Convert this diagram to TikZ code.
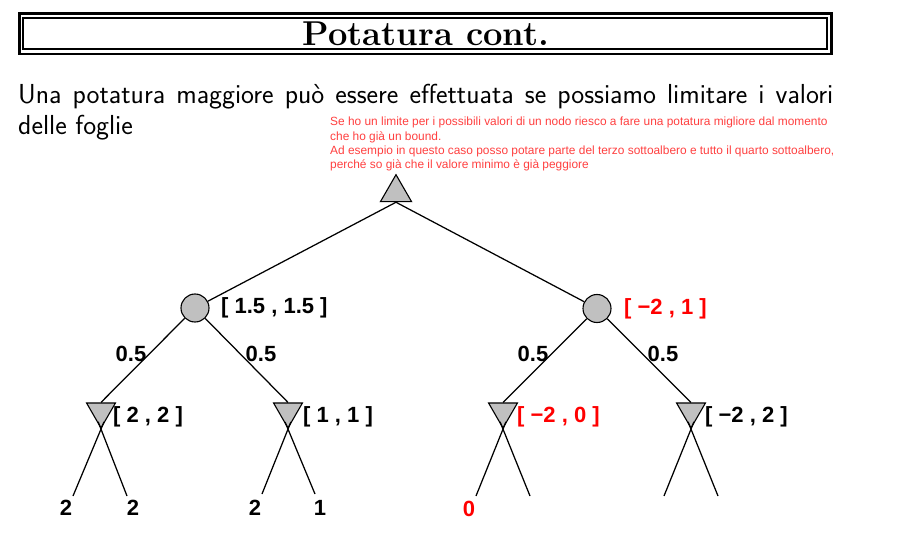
\documentclass[tikz,border=0pt]{standalone}
\usepackage{fontspec}
\newfontfamily\lsans{Liberation Sans}
\usetikzlibrary{shapes.geometric,calc}
\definecolor{annred}{RGB}{255,64,64}
\definecolor{valred}{RGB}{255,0,0}
\definecolor{nodegray}{RGB}{192,192,192}
\begin{document}
\begin{tikzpicture}[x=1pt,y=-1pt,
  maxnode/.style={regular polygon, regular polygon sides=3, draw, fill=nodegray, line width=1.1pt, inner sep=0pt, minimum size=36pt},
  minnode/.style={regular polygon, regular polygon sides=3, shape border rotate=180, draw, fill=nodegray, line width=1.1pt, inner sep=0pt, minimum size=33.4pt},
  chance/.style={circle, draw, fill=nodegray, line width=1.1pt, inner sep=0pt, minimum size=28pt},
  edge/.style={line width=1.25pt},
  lbl/.style={font=\lsans\bfseries\fontsize{22}{24}\selectfont, inner sep=0pt},
  vlbl/.style={lbl, anchor=west},
  ann/.style={font=\lsans\fontsize{11.9}{14.3}\selectfont, text=annred, inner sep=0pt, align=left, anchor=north west},
  body/.style={font=\sffamily\fontsize{27.5}{30}\selectfont, inner sep=0pt, anchor=base west}
]
\useasboundingbox[fill=white] (0,0) rectangle (914,556);
% title box
\draw[line width=2.5pt] (19.5,13.3) rectangle (831.7,54.2);
\draw[line width=1.7pt] (23,18) rectangle (827.3,48.8);
\node[font=\bfseries\fontsize{34.5}{38}\selectfont, inner sep=0pt] (title) at (426,34) {Potatura cont.};
% body
\node[body] (line1) at (18,104) {\makebox[815pt][s]{Una potatura maggiore può essere effettuata se possiamo limitare i valori}};
\node[body] (line2) at (18,135) {delle foglie};
% annotation
\node[ann] (note) at (330,117) {Se ho un limite per i possibili valori di un nodo riesco a fare una potatura migliore dal momento\\che ho già un bound.\\Ad esempio in questo caso posso potare parte del terzo sottoalbero e tutto il quarto sottoalbero,\\perché so già che il valore minimo è già peggiore};
% tree nodes
\node[maxnode] (root) at (396,192.7) {};
\node[chance] (cL) at (195,308) {};
\node[chance] (cR) at (597,308.5) {};
\node[minnode] (mL1) at (101,411.3) {};
\node[minnode] (mL2) at (288,411.3) {};
\node[minnode] (mR1) at (503,411.3) {};
\node[minnode] (mR2) at (691,411.3) {};
% leaf endpoints
\coordinate (l1) at (73,496);
\coordinate (l2) at (127,496);
\coordinate (l3) at (262,494);
\coordinate (l4) at (315,494);
\coordinate (l5) at (476,496);
\coordinate (l6) at (530,496);
\coordinate (l7) at (664,496);
\coordinate (l8) at (718,496);
% edges
\draw[edge] (root.south) -- (cL);
\draw[edge] (root.south) -- (cR);
\draw[edge] (cL) -- (mL1.north);
\draw[edge] (cL) -- (mL2.north);
\draw[edge] (cR) -- (mR1.north);
\draw[edge] (cR) -- (mR2.north);
\draw[edge] (l1) -- ($(l1)!1.11!(mL1.south)$);
\draw[edge] (l2) -- ($(l2)!1.11!(mL1.south)$);
\draw[edge] (l3) -- ($(l3)!1.11!(mL2.south)$);
\draw[edge] (l4) -- ($(l4)!1.11!(mL2.south)$);
\draw[edge] (l5) -- ($(l5)!1.11!(mR1.south)$);
\draw[edge] (l6) -- ($(l6)!1.11!(mR1.south)$);
\draw[edge] (l7) -- ($(l7)!1.11!(mR2.south)$);
\draw[edge] (l8) -- ($(l8)!1.11!(mR2.south)$);
% value labels
\node[vlbl] (vcL) at (221,308) {[ 1.5 , 1.5 ]};
\node[vlbl, text=valred] (vcR) at (624,309) {[ −2 , 1 ]};
\node[vlbl] (vmL1) at (113,417) {[ 2 , 2 ]};
\node[vlbl] (vmL2) at (303,417) {[ 1 , 1 ]};
\node[vlbl, text=valred] (vmR1) at (517,417) {[ −2 , 0 ]};
\node[vlbl] (vmR2) at (705,417) {[ −2 , 2 ]};
% probability labels
\node[lbl] (p1) at (131,354) {0.5};
\node[lbl] (p2) at (261,354) {0.5};
\node[lbl] (p3) at (533,354) {0.5};
\node[lbl] (p4) at (663,354) {0.5};
% leaf values
\node[lbl] (v1) at (66,508) {2};
\node[lbl] (v2) at (133,508) {2};
\node[lbl] (v3) at (255,508) {2};
\node[lbl] (v4) at (320,508) {1};
\node[lbl, text=valred] (v5) at (469,509) {0};
\end{tikzpicture}
\end{document}
